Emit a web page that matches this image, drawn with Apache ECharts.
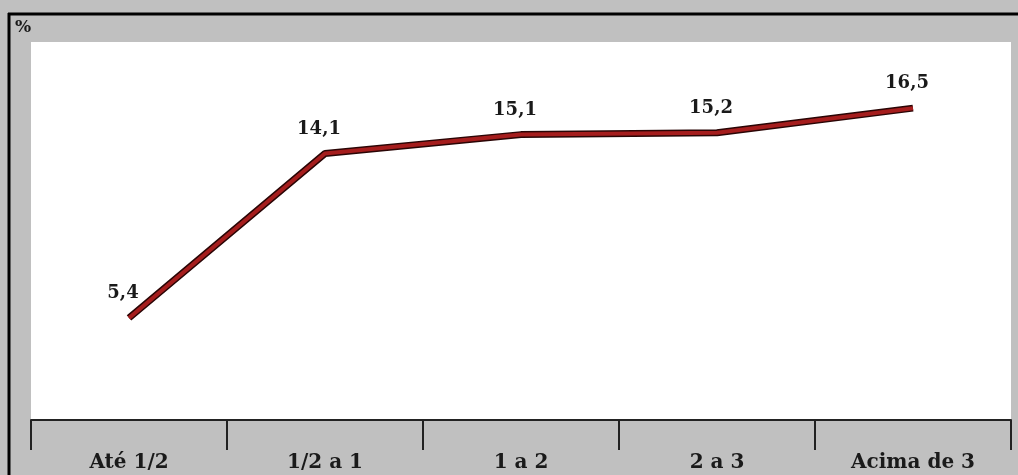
<!DOCTYPE html>
<html>
<head>
<meta charset="utf-8">
<script src="https://cdn.jsdelivr.net/npm/echarts@6/dist/echarts.min.js"></script>
<style>
  html, body { margin: 0; padding: 0; background: #c0c0c0; }
  #chart { width: 1018px; height: 475px; }
</style>
</head>
<body>
<div id="chart"></div>
<script>
// faixas de renda (salarios minimos)
var categories = ["Até 1/2", "1/2 a 1", "1 a 2", "2 a 3", "Acima de 3"];
var values = [5.4, 14.1, 15.1, 15.2, 16.5];

var chart = echarts.init(document.getElementById("chart"));

var labelFont = "DejaVu Serif";

chart.setOption({
  backgroundColor: "#c0c0c0",
  animation: false,
  grid: {
    left: 31, right: 7, top: 42, bottom: 55,
    show: true, backgroundColor: "#ffffff", borderWidth: 0
  },
  xAxis: {
    type: "category",
    data: categories,
    boundaryGap: true,
    axisLine: { lineStyle: { color: "#222", width: 2 } },
    axisTick: { show: true, length: 30, lineStyle: { color: "#222", width: 2 } },
    axisLabel: {
      color: "#1a1a1a", fontFamily: labelFont, fontWeight: "bold", fontSize: 20,
      margin: 33
    }
  },
  yAxis: {
    type: "value",
    min: 0, max: 20,
    show: false,
    splitLine: { show: false }
  },
  graphic: [
    { type: "line", shape: { x1: 8, y1: 14, x2: 1018, y2: 14 }, style: { stroke: "#000", lineWidth: 3 } },
    { type: "line", shape: { x1: 9, y1: 13, x2: 9, y2: 475 }, style: { stroke: "#000", lineWidth: 3 } },
    { type: "text", left: 15, top: 19, style: { text: "%", font: "bold 17px " + labelFont, fill: "#1a1a1a" } }
  ],
  series: [
    {
      type: "line",
      data: values,
      symbol: "none",
      silent: true,
      lineStyle: { color: "#2a0505", width: 7 },
      z: 2
    },
    {
      type: "line",
      data: values,
      symbol: "circle",
      symbolSize: 1,
      showSymbol: true,
      itemStyle: { color: "rgba(0,0,0,0)" },
      lineStyle: { color: "#a51d1d", width: 4 },
      z: 3,
      label: {
        show: true,
        position: "top",
        offset: [-6, -10],
        color: "#1a1a1a",
        fontFamily: labelFont,
        fontWeight: "bold",
        fontSize: 18,
        formatter: function (p) { return String(p.value).replace(".", ","); }
      }
    }
  ]
});
</script>
</body>
</html>
